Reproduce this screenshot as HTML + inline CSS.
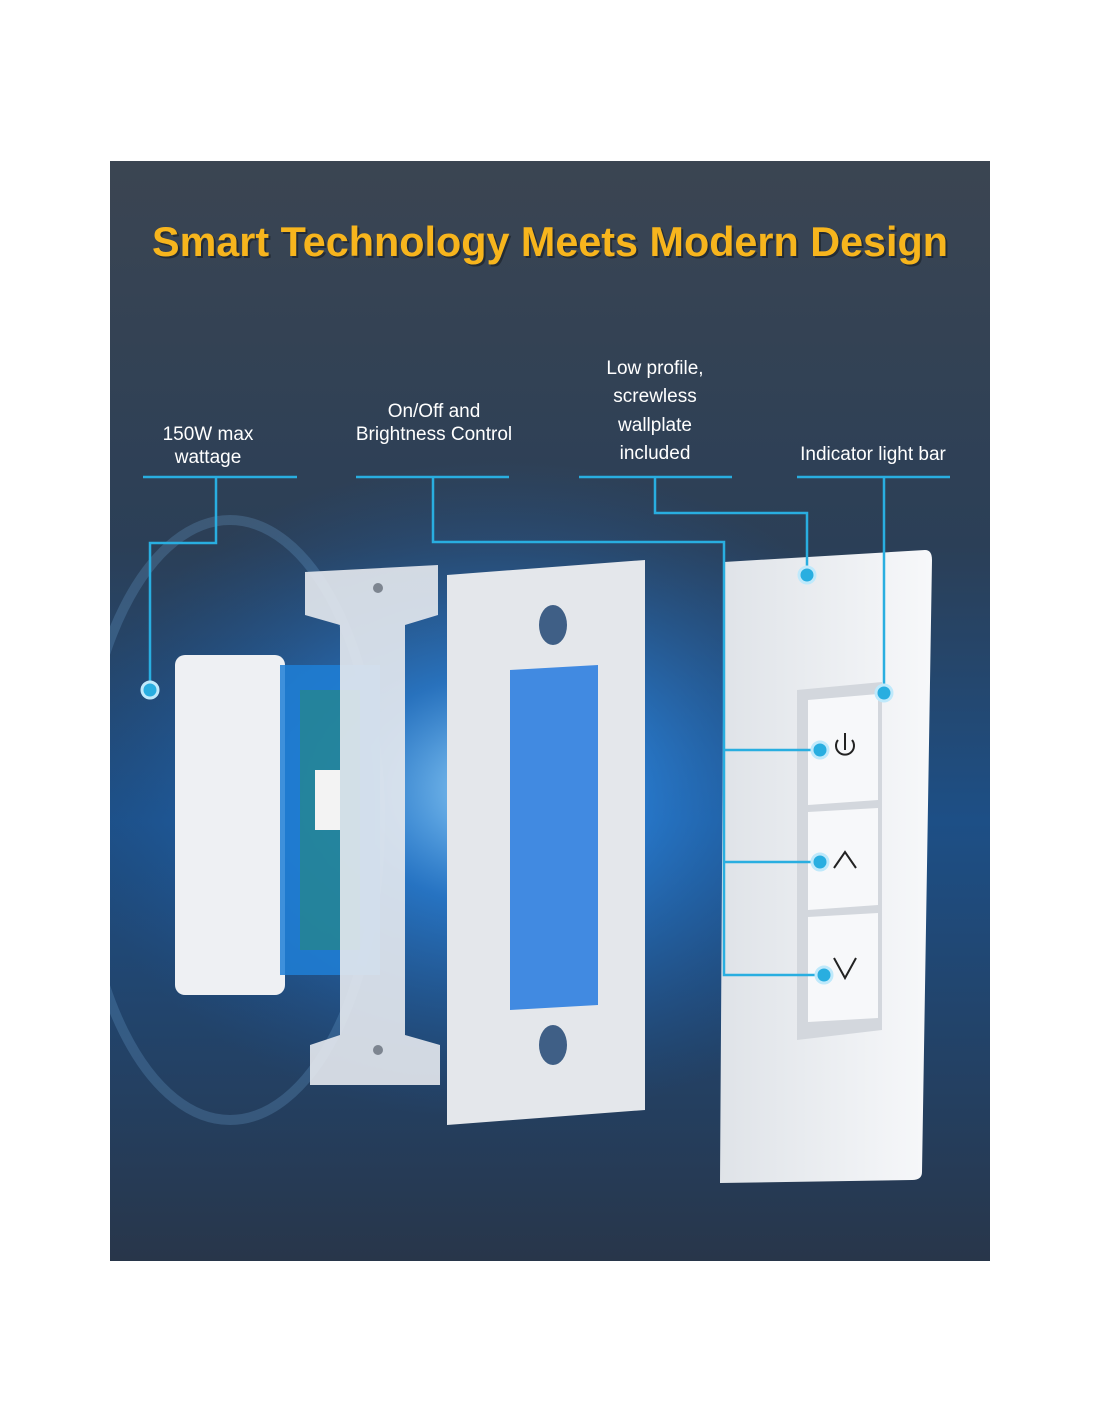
<!DOCTYPE html>
<html><head><meta charset="utf-8"><style>
html,body{margin:0;padding:0;background:#fff;}
body{width:1100px;height:1422px;position:relative;overflow:hidden;font-family:"Liberation Sans",sans-serif;}
</style></head><body>
<svg width="1100" height="1422" viewBox="0 0 1100 1422" xmlns="http://www.w3.org/2000/svg" style="position:absolute;left:0;top:0">
<defs>
<linearGradient id="bg" x1="0" y1="0" x2="0" y2="1">
<stop offset="0" stop-color="#3b4552"/>
<stop offset="0.35" stop-color="#2b3f57"/>
<stop offset="0.6" stop-color="#1d4f86"/>
<stop offset="1" stop-color="#28364a"/>
</linearGradient>
<radialGradient id="glow" cx="0.5" cy="0.5" r="0.5">
<stop offset="0" stop-color="#9fdcff" stop-opacity="0.95"/>
<stop offset="0.35" stop-color="#2c8ef0" stop-opacity="0.6"/>
<stop offset="1" stop-color="#1c5ca8" stop-opacity="0"/>
</radialGradient>
<linearGradient id="plate" x1="0" y1="0" x2="1" y2="0">
<stop offset="0" stop-color="#dfe3e8"/><stop offset="1" stop-color="#f7f8fa"/>
</linearGradient>
<clipPath id="pc"><rect x="110" y="161" width="880" height="1100"/></clipPath>
</defs>
<rect x="110" y="161" width="880" height="1100" fill="url(#bg)"/>
<g clip-path="url(#pc)">
<ellipse cx="500" cy="790" rx="430" ry="330" fill="url(#glow)"/>
<ellipse cx="230" cy="820" rx="150" ry="300" fill="none" stroke="#6fa9d8" stroke-width="10" opacity="0.25"/>
</g>
<text x="152" y="256" textLength="796" lengthAdjust="spacingAndGlyphs" font-size="42" font-weight="bold" fill="#000" opacity="0.35" transform="translate(2,2)">Smart Technology Meets Modern Design</text>
<text x="152" y="256" textLength="796" lengthAdjust="spacingAndGlyphs" font-size="42" font-weight="bold" fill="#f7b51d">Smart Technology Meets Modern Design</text>
<g fill="#ffffff" font-size="19" text-anchor="middle">
<text x="208" y="440">150W max</text><text x="208" y="463">wattage</text>
<text x="434" y="417">On/Off and</text><text x="434" y="440">Brightness Control</text>
<text x="655" y="374">Low profile,</text><text x="655" y="402">screwless</text><text x="655" y="431">wallplate</text><text x="655" y="459">included</text>
<text x="873" y="460">Indicator light bar</text>
</g>
<rect x="175" y="655" width="110" height="340" rx="10" fill="#eef0f3"/>
<rect x="280" y="665" width="100" height="310" fill="#1f7fd6" opacity="0.85"/>
<rect x="300" y="690" width="60" height="260" fill="#2a8c6a" opacity="0.5"/>
<rect x="315" y="770" width="25" height="60" fill="#f3f3f3"/>
<path d="M305 572 L438 565 L438 615 L405 625 L405 1035 L440 1045 L440 1085 L310 1085 L310 1045 L340 1035 L340 625 L305 615 Z" fill="#e6e9ee" opacity="0.9"/>
<circle cx="378" cy="588" r="5" fill="#7d8590"/><circle cx="378" cy="1050" r="5" fill="#7d8590"/>
<path d="M447 575 L645 560 L645 1110 L447 1125 Z" fill="#e4e7eb"/>
<path d="M510 670 L598 665 L598 1005 L510 1010 Z" fill="#2f7fe0" opacity="0.9"/>
<ellipse cx="553" cy="625" rx="14" ry="20" fill="#3f5f86"/>
<ellipse cx="553" cy="1045" rx="14" ry="20" fill="#3f5f86"/>
<path d="M724 562 L925 550 Q932 550 932 560 L922 1172 Q922 1180 912 1180 L720 1183 Z" fill="url(#plate)"/>
<path d="M797 690 L882 682 L882 1030 L797 1040 Z" fill="#d3d7dd"/>
<path d="M808 700 L878 694 L878 800 L808 805 Z" fill="#f7f8fa"/>
<path d="M808 812 L878 808 L878 905 L808 910 Z" fill="#f7f8fa"/>
<path d="M808 917 L878 913 L878 1018 L808 1022 Z" fill="#f7f8fa"/>
<g fill="none" stroke="#222" stroke-width="2">
<path d="M838 740 A9 9 0 1 0 852 740"/><line x1="845" y1="733" x2="845" y2="750"/>
<polyline points="834,868 845,852 856,868"/>
<polyline points="834,958 845,978 856,958"/>
</g>
<g stroke="#29aee0" stroke-width="2.5" fill="none">
<line x1="143" y1="477" x2="297" y2="477"/>
<line x1="356" y1="477" x2="509" y2="477"/>
<line x1="579" y1="477" x2="732" y2="477"/>
<line x1="797" y1="477" x2="950" y2="477"/>
<polyline points="216,477 216,543 150,543 150,690"/>
<polyline points="433,477 433,542 724,542 724,975 822,975"/>
<line x1="724" y1="750" x2="820" y2="750"/>
<line x1="724" y1="862" x2="820" y2="862"/>
<polyline points="655,477 655,513 807,513 807,575"/>
<polyline points="884,477 884,693"/>
</g>
<g fill="#29aee0" stroke="#bfe9fb" stroke-width="3">
<circle cx="150" cy="690" r="8"/><circle cx="807" cy="575" r="8"/><circle cx="884" cy="693" r="8"/>
<circle cx="820" cy="750" r="8"/><circle cx="820" cy="862" r="8"/><circle cx="824" cy="975" r="8"/>
</g>
</svg>
</body></html>
